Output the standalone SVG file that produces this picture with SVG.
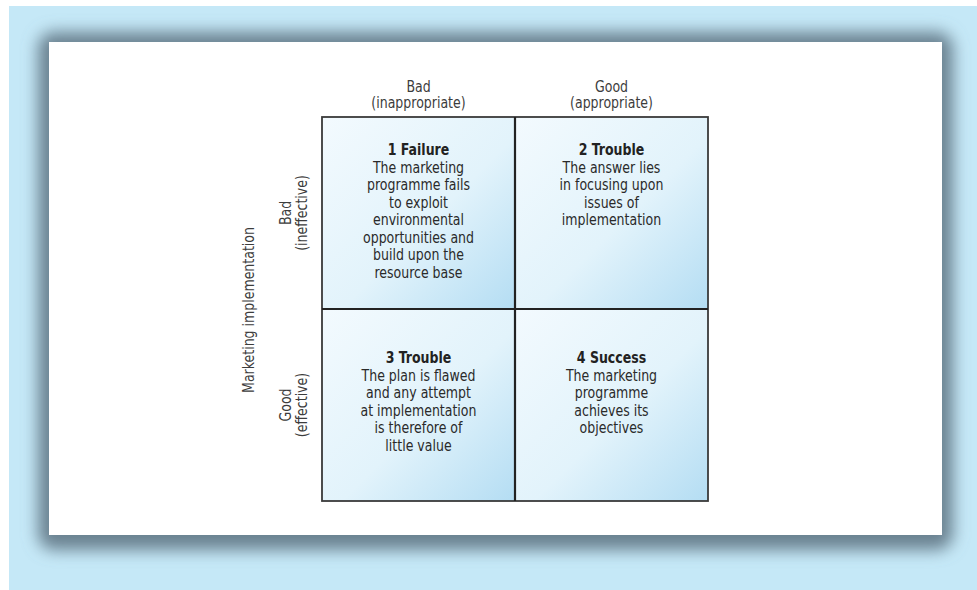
<svg xmlns="http://www.w3.org/2000/svg" width="977" height="590" viewBox="0 0 977 590">
<defs>
<linearGradient id="cellGrad" x1="0" y1="0" x2="1" y2="1">
<stop offset="0" stop-color="#f3fafe"/>
<stop offset="0.55" stop-color="#e2f3fb"/>
<stop offset="1" stop-color="#b4ddf3"/>
</linearGradient>
<filter id="shadowBlur" x="-10%" y="-10%" width="120%" height="120%">
<feGaussianBlur stdDeviation="8"/>
</filter>
<style>
text{font-family:"DejaVu Sans Condensed","Liberation Sans",sans-serif;font-size:15.5px;text-anchor:middle}
.lbl{fill:#3c3c3c}
.ttl{font-weight:bold;fill:#222}
.txt{fill:#2a2a2a}
.cell{fill:url(#cellGrad);stroke:none}
.grid{fill:none;stroke:#222;stroke-width:2.2}
.outer{fill:none;stroke:#3a3a3a;stroke-width:1.8}
</style>
</defs>
<rect x="0" y="0" width="977" height="590" fill="#ffffff"/>
<rect x="9" y="6" width="968" height="584" fill="#c5e8f7"/>
<g id="panel">
<rect x="38" y="32" width="915" height="518" rx="16" fill="#6a8291" filter="url(#shadowBlur)"/>
<rect x="49" y="42" width="893" height="493" fill="#ffffff"/>
</g>
<g id="headers">
<g id="col-bad" transform="translate(418.5,0) scale(0.9,1)"><text class="lbl" x="0" y="92">Bad</text><text class="lbl" x="0" y="108">(inappropriate)</text></g>
<g id="col-good" transform="translate(611.5,0) scale(0.9,1)"><text class="lbl" x="0" y="92">Good</text><text class="lbl" x="0" y="108">(appropriate)</text></g>
<g id="row-bad" transform="translate(286,213) rotate(-90) scale(0.9,1)"><text class="lbl" x="0" y="5">Bad</text><text class="lbl" x="0" y="21">(ineffective)</text></g>
<g id="row-good" transform="translate(286,405) rotate(-90) scale(0.9,1)"><text class="lbl" x="0" y="5">Good</text><text class="lbl" x="0" y="21">(effective)</text></g>
<g id="axis" transform="translate(248,310) rotate(-90) scale(0.9,1)"><text class="lbl" x="0" y="6">Marketing implementation</text></g>
</g>
<g id="cell1">
<rect class="cell" x="322" y="117" width="193" height="192"/>
<g transform="translate(418.5,0) scale(0.9,1)">
<text class="ttl" x="0" y="155">1 Failure</text>
<text class="txt" x="0" y="172.7">The marketing</text>
<text class="txt" x="0" y="190.2">programme fails</text>
<text class="txt" x="0" y="207.8">to exploit</text>
<text class="txt" x="0" y="225.3">environmental</text>
<text class="txt" x="0" y="242.9">opportunities and</text>
<text class="txt" x="0" y="260.4">build upon the</text>
<text class="txt" x="0" y="278">resource base</text>
</g>
</g>
<g id="cell2">
<rect class="cell" x="515" y="117" width="193" height="192"/>
<g transform="translate(611.5,0) scale(0.9,1)">
<text class="ttl" x="0" y="155">2 Trouble</text>
<text class="txt" x="0" y="172.7">The answer lies</text>
<text class="txt" x="0" y="190.2">in focusing upon</text>
<text class="txt" x="0" y="207.8">issues of</text>
<text class="txt" x="0" y="225.3">implementation</text>
</g>
</g>
<g id="cell3">
<rect class="cell" x="322" y="309" width="193" height="192"/>
<g transform="translate(418.5,0) scale(0.9,1)">
<text class="ttl" x="0" y="363.3">3 Trouble</text>
<text class="txt" x="0" y="381">The plan is flawed</text>
<text class="txt" x="0" y="398.5">and any attempt</text>
<text class="txt" x="0" y="416">at implementation</text>
<text class="txt" x="0" y="433.5">is therefore of</text>
<text class="txt" x="0" y="451">little value</text>
</g>
</g>
<g id="cell4">
<rect class="cell" x="515" y="309" width="193" height="192"/>
<g transform="translate(611.5,0) scale(0.9,1)">
<text class="ttl" x="0" y="363.3">4 Success</text>
<text class="txt" x="0" y="381">The marketing</text>
<text class="txt" x="0" y="398.5">programme</text>
<text class="txt" x="0" y="416">achieves its</text>
<text class="txt" x="0" y="433.5">objectives</text>
</g>
</g>
<g id="connectors">
<rect class="outer" x="322" y="117" width="386" height="384"/>
<line class="grid" x1="515" y1="117" x2="515" y2="501"/>
<line class="grid" x1="322" y1="309" x2="708" y2="309"/>
</g>
</svg>
